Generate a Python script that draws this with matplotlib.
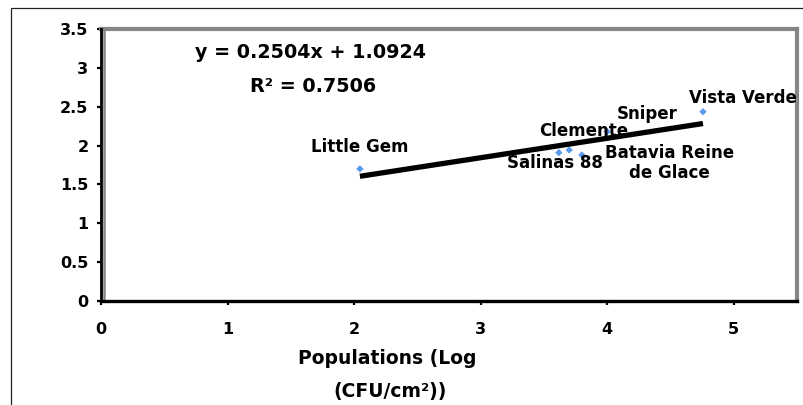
import matplotlib
matplotlib.use("Agg")
import matplotlib.pyplot as plt
from matplotlib.patches import Rectangle
from matplotlib.transforms import ScaledTranslation
import numpy as np

# ---- data ----
cultivars = ["Little Gem", "Salinas 88", "Clemente", "Batavia Reine\nde Glace", "Sniper", "Vista Verde"]
populations = [2.046, 3.618, 3.70, 3.80, 4.00, 4.757]
values = [1.70, 1.909, 1.943, 1.879, 2.18, 2.436]
slope = 0.2504
intercept = 1.0924
r_squared = 0.7506
x_ticks = [0, 1, 2, 3, 4, 5]
y_ticks = [0, 0.5, 1, 1.5, 2, 2.5, 3, 3.5]

# label offsets (pixels) relative to each point
label_offsets = [(0, 22), (-4, -10), (14, 19), (88, -8), (40, 18), (40, 14)]

plt.rcParams['font.family'] = ['DejaVu Sans']
plt.rcParams['font.weight'] = 'bold'

W, H = 804, 405
fig = plt.figure(figsize=(W / 100, H / 100), dpi=100)
fig.patch.set_facecolor('white')

# chart-area frame (partially cropped)
fig.add_artist(Rectangle((11 / W, -0.5), 2.0, 0.5 + (H - 8) / H, transform=fig.transFigure,
                         fill=False, edgecolor='#222222', linewidth=0.9))

ax = fig.add_axes([101 / W, (H - 301) / H, (797 - 101) / W, (301 - 29) / H])
ax.set_xlim(0, 5.5)
ax.set_ylim(0, 3.5)
ax.set_xticks(x_ticks)
ax.set_yticks(y_ticks)
ax.set_xticklabels([f"{t:g}" for t in x_ticks])
ax.set_yticklabels([f"{t:g}" for t in y_ticks])

for side in ['top', 'right']:
    ax.spines[side].set_color('#858585')
    ax.spines[side].set_linewidth(3.0)
ax.spines['left'].set_color('black')
ax.spines['left'].set_linewidth(2.0)
ax.spines['bottom'].set_color('black')
ax.spines['bottom'].set_linewidth(2.4)
ax.spines['left'].set_zorder(5)
ax.spines['bottom'].set_zorder(5)

# gray inner edge of the plot-area border on the left
off = ScaledTranslation(2.5 / 100, 0, fig.dpi_scale_trans)
ax.plot([0, 0], [0, 1], transform=ax.transAxes + off, color='#858585', lw=1.8,
        solid_capstyle='butt', zorder=4, clip_on=False)

ax.tick_params(axis='both', direction='out', length=3, width=1.6, colors='black',
               labelsize=11.5)
ax.tick_params(axis='y', pad=6)
ax.tick_params(axis='x', pad=12)
for lbl in ax.get_xticklabels() + ax.get_yticklabels():
    lbl.set_fontweight('bold')

# trendline
xl = np.array([min(populations), max(populations)])
ax.plot(xl, slope * xl + intercept, color='black', lw=3.8, solid_capstyle='butt', zorder=3)

# points
ax.scatter(populations, values, marker='D', s=14, color='#5A9AEE', edgecolors='none', zorder=2)

for name, x, y, (dx, dy) in zip(cultivars, populations, values, label_offsets):
    ax.annotate(name, (x, y), xytext=(dx, dy), textcoords='offset pixels',
                ha='center', va='center', fontsize=12, fontweight='bold',
                linespacing=1.2, zorder=6)

# equation
fig.text(311 / W, 1 - 52 / H, f"y = {slope:.4f}x + {intercept:.4f}", ha='center', va='center',
         fontsize=13.8, fontweight='bold')
fig.text(313 / W, 1 - 87 / H, f"R² = {r_squared:.4f}", ha='center', va='center',
         fontsize=13.8, fontweight='bold')

# x axis title
fig.text(387 / W, 1 - 359 / H, "Populations (Log", ha='center', va='center',
         fontsize=13.5, fontweight='bold')
fig.text(390 / W, 1 - 392 / H, "(CFU/cm²))", ha='center', va='center',
         fontsize=13.5, fontweight='bold')

fig.savefig("out.png", dpi=100, facecolor='white')
